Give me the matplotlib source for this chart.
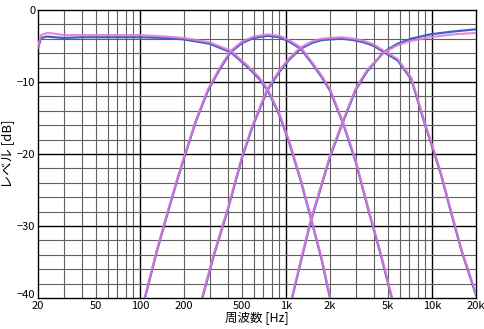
import matplotlib
matplotlib.use("Agg")
import matplotlib.pyplot as plt
from matplotlib.ticker import FixedLocator, NullFormatter
import matplotlib.transforms as mtransforms

plt.rcParams['font.family'] = ['Noto Sans CJK JP', 'DejaVu Sans']

# low-pass band
lp_f = [20, 21, 23, 26, 30, 40, 60, 100, 150, 200, 300, 420, 550, 650, 750, 900, 1050, 1260, 1500, 1750, 2000]
lp_blue = [-5.3, -3.9, -3.7, -3.8, -3.9, -3.8, -3.8, -3.8, -3.9, -4.1, -4.7, -5.9, -8.0, -9.5, -11.2, -14.6, -18.4, -23.7, -29.4, -34.6, -40.0]
lp_pink = [-5.0, -3.5, -3.2, -3.3, -3.5, -3.5, -3.5, -3.5, -3.7, -3.9, -4.5, -5.7, -7.8, -9.3, -11.0, -14.4, -18.2, -23.5, -29.2, -34.4, -39.8]

# lower mid band
bp1_f = [108, 130, 156, 180, 203, 240, 292, 350, 416, 500, 600, 750, 900, 1050, 1260, 1500, 1750, 2000, 2450, 3000, 3700, 4400, 5300]
bp1_blue = [-40.0, -33.6, -27.9, -23.6, -20.2, -15.6, -11.2, -8.3, -5.9, -4.6, -3.9, -3.6, -3.8, -4.4, -5.4, -7.4, -9.3, -11.2, -15.7, -21.1, -28.1, -33.6, -40.0]
bp1_pink = [-39.8, -33.4, -27.7, -23.4, -20.0, -15.4, -11.0, -8.1, -5.7, -4.4, -3.7, -3.4, -3.6, -4.2, -5.2, -7.2, -9.1, -11.0, -15.5, -20.9, -27.9, -33.4, -39.8]

# upper mid band
bp2_f = [267, 320, 397, 500, 587, 743, 900, 1050, 1260, 1500, 1750, 2000, 2400, 2900, 3400, 4000, 4700, 5800, 7200, 8900, 9700, 11500, 13400, 16000, 20000]
bp2_blue = [-40.0, -34.1, -27.9, -20.5, -16.3, -11.2, -8.6, -6.9, -5.4, -4.6, -4.2, -4.1, -4.0, -4.2, -4.5, -5.0, -5.9, -7.0, -9.6, -15.8, -18.1, -22.8, -27.9, -33.6, -39.6]
bp2_pink = [-39.8, -33.9, -27.7, -20.3, -16.1, -11.0, -8.4, -6.7, -5.2, -4.4, -4.0, -3.9, -3.8, -4.0, -4.3, -4.8, -5.7, -6.8, -9.4, -15.6, -17.9, -22.6, -27.7, -33.4, -39.4]

# high-pass band
hp_f = [1100, 1260, 1470, 1730, 2000, 2450, 3000, 3600, 4700, 5800, 7200, 9700, 14000, 20000]
hp_blue = [-40.0, -35.0, -29.5, -24.7, -20.4, -15.6, -11.1, -8.5, -5.8, -4.7, -4.0, -3.4, -3.0, -2.7]
hp_pink = [-39.8, -34.8, -29.3, -24.5, -20.2, -15.4, -10.9, -8.3, -5.9, -4.9, -4.3, -3.8, -3.4, -3.2]

x_ticks = [20, 50, 100, 200, 500, 1000, 2000, 5000, 10000, 20000]
x_labels = ['20', '50', '100', '200', '500', '1k', '2k', '5k', '10k', '20k']
y_ticks = [0, -10, -20, -30, -40]
y_labels = ['0', '\u221210', '\u221220', '\u221230', '\u221240']

fig = plt.figure(figsize=(4.84, 3.29), dpi=100)
ax = fig.add_axes([0.0785, 0.094, 0.905, 0.876])

ax.set_xscale('log')
ax.set_xlim(20, 20000)
ax.set_ylim(-40, 0)

# grid
minor_x = [m * d for d in [10, 100, 1000, 10000] for m in range(2, 10)]
minor_x = [v for v in minor_x if 20 < v < 20000]
for v in minor_x:
    ax.axvline(v, color='#606060', lw=0.8, zorder=1)
for v in [100, 1000, 10000]:
    ax.axvline(v, color='black', lw=1.0, zorder=1)
for v in range(-38, 0, 2):
    if v % 10 == 0:
        ax.axhline(v, color='black', lw=1.0, zorder=1)
    else:
        ax.axhline(v, color='#606060', lw=0.8, zorder=1)

blue = '#3f5fc8'
pink = '#e07ad6'
for f, b, p in [(lp_f, lp_blue, lp_pink), (bp1_f, bp1_blue, bp1_pink),
                (bp2_f, bp2_blue, bp2_pink), (hp_f, hp_blue, hp_pink)]:
    ax.plot(f, b, color=blue, lw=1.6, zorder=3)
    ax.plot(f, p, color=pink, lw=1.6, alpha=0.85, zorder=4)

ax.xaxis.set_major_locator(FixedLocator(x_ticks))
ax.xaxis.set_minor_locator(FixedLocator([]))
ax.xaxis.set_minor_formatter(NullFormatter())
ax.set_xticks(x_ticks)
ax.set_xticklabels(x_labels)
ax.set_yticks(y_ticks)
ax.set_yticklabels(y_labels)
ax.tick_params(length=0, labelsize=8, pad=2)

# lift the -40 label a little so it clears the "20" below it
lab = ax.get_yticklabels()[-1]
lab.set_transform(lab.get_transform() + mtransforms.ScaledTranslation(0, 3 / 72, fig.dpi_scale_trans))

for s in ax.spines.values():
    s.set_color('black')
    s.set_linewidth(1.0)

ax.set_xlabel('周波数 [Hz]', fontsize=9, labelpad=0)
ax.set_ylabel('レベル [dB]', fontsize=9.5, labelpad=2)

fig.savefig('out.png', dpi=100)
